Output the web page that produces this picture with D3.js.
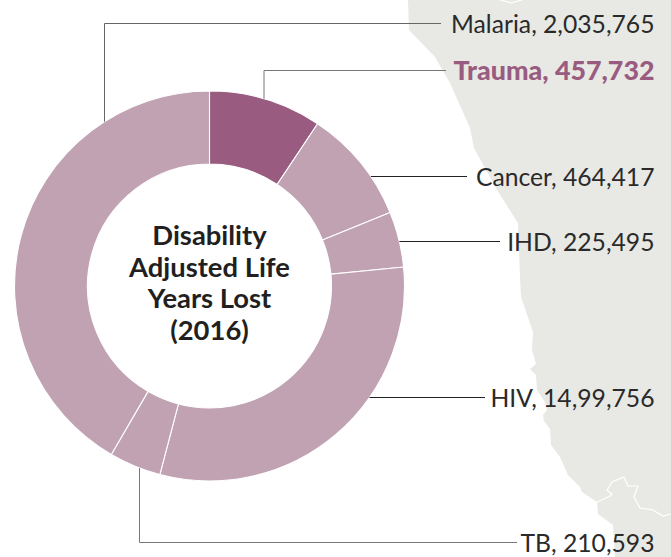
<!DOCTYPE html>
<html><head><meta charset="utf-8">
<script src="https://cdn.jsdelivr.net/npm/d3@7"></script>
<style>html,body{margin:0;padding:0;background:#fff;overflow:hidden}svg{display:block}text{font-family:Lato,sans-serif}</style>
</head><body><svg id="c" width="671" height="557"></svg>
<script>
// data
const causes = ["Trauma","Cancer","IHD","HIV","TB","Malaria"];
const values = [457732,464417,225495,1499756,210593,2035765];
const valueLabels = ["457,732","464,417","225,495","14,99,756","210,593","2,035,765"];
const highlighted = "Trauma";
const centreTitle = ["Disability","Adjusted Life","Years Lost","(2016)"];
// backdrop map outline, traced in pixel space
const coast = [[408,0],[409,30],[435,57],[450,83],[470,128],[474,148],[497,190],[518,223],[520,277],[521,297],[533,332],[532,350],[536,364],[530,369],[536,375],[537,390],[545,402],[547,410],[543,415],[544,421],[550,429],[551,445],[560,457],[568,475],[580,487],[582,492],[597,502],[598,514],[613,525],[615,557],[671,557],[671,0]];
const border = [[597,502],[610,496],[612,494],[607,490],[612,482],[624,477],[628,486],[638,486],[634,497],[640,508],[653,510],[663,516],[671,514]];
const borderTop = [[500,0],[511,3],[522,0]];

const svg = d3.select("#c");
const cx = 209.5, cy = 286, R = 195, r = 122;
const line = d3.line();

svg.append("path").attr("d", line(coast)+"Z").attr("fill","#e8e9e4");
[border,borderTop].forEach(b=>svg.append("path").attr("d",line(b)).attr("fill","none").attr("stroke","#fff").attr("stroke-width",1.2));

const pie = d3.pie().sort(null).value(d=>d.value);
const arc = d3.arc().innerRadius(r).outerRadius(R);
const rows = causes.map((c,i)=>({cause:c,value:values[i],label:valueLabels[i]}));
const g = svg.append("g").attr("transform",`translate(${cx},${cy})`);
g.selectAll("path").data(pie(rows)).join("path")
  .attr("d",arc)
  .attr("fill",d=>d.data.cause===highlighted?"#995c80":"#c0a2b2")
  .attr("stroke","#fff").attr("stroke-width",1.1);

const onTop = x => cy - Math.sqrt(R*R-(x-cx)*(x-cx));
const onBottom = x => cy + Math.sqrt(R*R-(x-cx)*(x-cx));
const onRight = y => cx + Math.sqrt(R*R-(y-cy)*(y-cy));
const callouts = {
  Malaria:{y:23.5,base:33.3,end:441,elbow:104.5,from:onTop,stroke:"#666"},
  Trauma:{y:70.5,base:80,end:446,elbow:264,from:onTop,stroke:"#777"},
  Cancer:{y:176.5,base:185.5,end:467,stroke:"#222"},
  IHD:{y:241.5,base:250.7,end:500,stroke:"#222"},
  HIV:{y:397.5,base:407,end:485,stroke:"#222"},
  TB:{y:542.5,base:552,end:517,elbow:139.5,from:onBottom,stroke:"#777"}
};
rows.forEach(d=>{
  const c = callouts[d.cause];
  const pts = c.elbow!==undefined ? [[c.elbow,c.from(c.elbow)],[c.elbow,c.y],[c.end,c.y]] : [[onRight(c.y),c.y],[c.end,c.y]];
  svg.append("path").attr("d",line(pts)).attr("fill","none").attr("stroke",c.stroke).attr("stroke-width",1);
  const hi = d.cause===highlighted;
  svg.append("text").attr("x",654.5).attr("y",c.base).attr("text-anchor","end")
    .attr("font-size",hi?26.8:24.7).attr("font-weight",hi?900:400)
    .attr("fill",hi?"#995c80":"#2a2a2a").text(`${d.cause}, ${d.label}`);
});
const title = svg.append("text").attr("text-anchor","middle").attr("font-size",27.4).attr("font-weight",700).attr("fill","#231f20");
centreTitle.forEach((t,i)=>title.append("tspan").attr("x",cx).attr("y",245+i*31.7).text(t));
</script></body></html>
